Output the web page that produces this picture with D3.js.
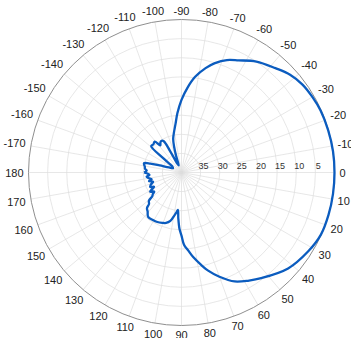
<!DOCTYPE html>
<html>
<head>
<meta charset="utf-8">
<script src="https://cdn.jsdelivr.net/npm/d3@7"></script>
<style>
  body { margin: 0; background: #fff; }
  svg { display: block; }
</style>
</head>
<body>
<svg id="polar" width="351" height="338"></svg>
<script>
// pattern: angle (deg) and level below peak (dB)
var angles = [-180, -177, -174, -171, -168, -166, -164, -162, -158, -152, -146, -142, -139, -135, -131, -128, -125, -122, -119.5, -118, -115, -111, -108, -106, -104, -101, -97, -94, -90, -86, -82, -77, -73, -68, -63, -56, -48, -42, -36, -30, -24, -16, -8, 0, 8, 16, 24, 32, 42, 53, 58, 64, 70, 75, 78, 82, 85, 88, 90, 92, 94, 95.5, 97, 99, 103, 107, 111, 116, 121, 127, 131, 134, 136, 139, 141, 143, 145, 148.5, 152.5, 155, 158, 162, 165, 167, 170, 173, 175.5, 177.5, 180];
var levels = [30.2, 30.9, 30.4, 30.3, 30.0, 29.9, 31.5, 34, 36.5, 37.5, 37, 34, 29.5, 29.6, 29.3, 31, 30.4, 30.2, 30.6, 33.5, 37.5, 38, 35.5, 33, 31, 29.5, 27.2, 24.5, 21, 17.8, 14.8, 12, 10.1, 8.3, 7.1, 5, 3.3, 1.8, 0.9, 0.5, 0.2, 0.1, 0, 0, 0, 0, 0.1, 1, 2.5, 5.4, 6.7, 8.3, 11, 13.5, 15.3, 17.6, 19.5, 21.1, 23.5, 25.2, 28, 30.2, 29.6, 28.8, 27, 26.2, 25.9, 25.6, 25.5, 25.5, 26.5, 27, 28.2, 28.7, 30.2, 30.6, 31.3, 30.4, 31.9, 31, 31.3, 32.2, 31.2, 32, 31.4, 30.8, 31.6, 31.3, 30.2];

var thetaTicks = d3.range(-170, 181, 10);
var rTicks = [35, 30, 25, 20, 15, 10, 5];

var svg = d3.select("#polar"),
    cx = 181.5, cy = 172.5, R = 153;

var g = svg.append("g")
    .attr("transform", "translate(" + cx + "," + cy + ")");

// 0 at the right, -90 at the top
var aScale = d3.scaleLinear().domain([-180, 180]).range([-Math.PI / 2, 1.5 * Math.PI]);
var rScale = d3.scaleLinear().domain([40, 0]).range([0, R]);

// rings
g.selectAll(".ring")
  .data(rTicks)
  .enter().append("circle")
  .attr("r", function(d) { return rScale(d); })
  .attr("fill", "none")
  .attr("stroke", "#dcdcdc")
  .attr("stroke-width", 0.7);

// spokes
g.selectAll(".spoke")
  .data(thetaTicks)
  .enter().append("line")
  .attr("x1", 0).attr("y1", 0)
  .attr("x2", function(d) { return R * Math.sin(aScale(d)); })
  .attr("y2", function(d) { return -R * Math.cos(aScale(d)); })
  .attr("stroke", "#dcdcdc")
  .attr("stroke-width", 0.7);

g.append("circle")
  .attr("r", R)
  .attr("fill", "none")
  .attr("stroke", "#8f8f8f")
  .attr("stroke-width", 1);

// angle labels
thetaTicks.forEach(function(d) {
  var a = aScale(d), s = Math.sin(a), c = -Math.cos(a);
  var t = g.append("text")
    .text(d)
    .attr("text-anchor", "middle")
    .attr("dominant-baseline", "central")
    .style("font-family", "Liberation Sans, Arial, sans-serif")
    .style("font-size", "11px")
    .attr("fill", "#222");
  var w = t.node().getComputedTextLength();
  var off = R + 5 + Math.abs(s) * w / 2 + Math.abs(c) * 4;
  t.attr("x", off * s).attr("y", off * c);
});

// radius labels
g.selectAll(".rlab")
  .data(rTicks)
  .enter().append("text")
  .attr("x", function(d) { return rScale(d) + 3; })
  .attr("y", -4)
  .attr("text-anchor", "middle")
  .style("font-family", "Liberation Sans, Arial, sans-serif")
  .style("font-size", "9px")
  .attr("fill", "#333")
  .text(function(d) { return d; });

var pts = angles.map(function(a, i) { return [a, levels[i]]; });

var line = d3.lineRadial()
  .angle(function(d) { return aScale(d[0]); })
  .radius(function(d) { return rScale(d[1]); })
  .curve(d3.curveCatmullRom.alpha(0.5));

g.append("path")
  .datum(pts)
  .attr("d", line)
  .attr("fill", "none")
  .attr("stroke", "#0b5cbf")
  .attr("stroke-width", 2.3)
  .attr("stroke-linejoin", "round");
</script>
</body>
</html>
